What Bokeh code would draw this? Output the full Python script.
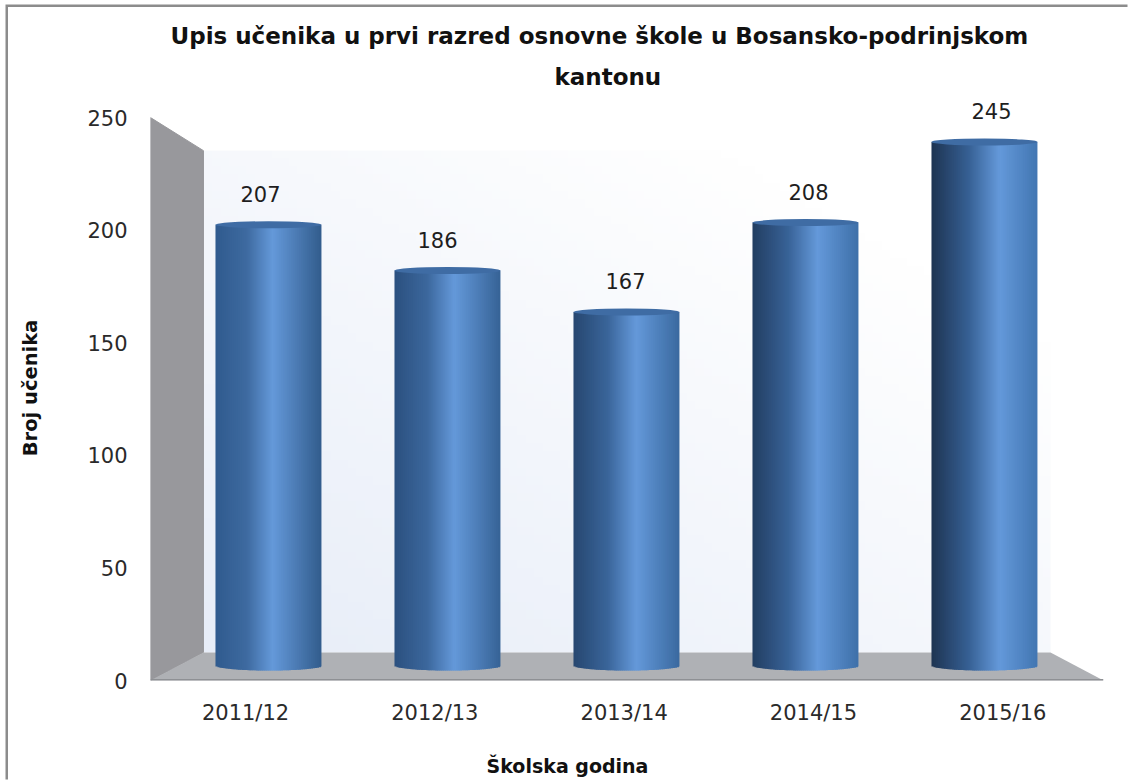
import numpy as np
from bokeh.plotting import figure
from bokeh.models import Range1d, FixedTicker, Title, LinearAxis
from bokeh.core.properties import value
from bokeh.embed import file_html
from bokeh.resources import INLINE

title_lines = ["Upis učenika u prvi razred osnovne škole u Bosansko-podrinjskom", "kantonu"]
x_title = "Školska godina"
y_title = "Broj učenika"
years = ["2011/12", "2012/13", "2013/14", "2014/15", "2015/16"]
students = [207, 186, 167, 208, 245]
y_ticks = [0, 50, 100, 150, 200, 250]
label_dx = [-8, -10, -1, 3, 7]

FONT = "DejaVu Sans"
LABEL_FONT = "DejaVu Sans"

def lerp(a, b, t):
    return a + (b - a) * t

def hexc(rgb):
    return "#%02x%02x%02x" % tuple(int(round(c)) for c in rgb)

x_idx = list(range(len(years)))

p = figure(width=1122, height=775, output_backend="svg", toolbar_location=None,
           x_range=Range1d(-0.659, 4.665), y_range=Range1d(0, 259.8),
           min_border_left=142, min_border_right=27, min_border_top=88, min_border_bottom=102,
           background_fill_color="white", border_fill_color="white",
           outline_line_color=None, margin=(7, 0, 0, 8))
p.styles = {"box-shadow": "-2.5px -2.5px 0 #8c8c8c"}
p.extra_y_ranges = {"bars": Range1d(-3.67, 264.7)}
p.extra_x_ranges = {"labels": Range1d(-0.502, 4.532), "xtitle": Range1d(150, 1103)}
p.grid.visible = False

# walls and floor of the 3D box
wl, wr, fl, fr = -0.659, 4.665, -0.363, 4.369
bw0, bw1 = 12.43, 235.3
ny, nx = 60, 100
img = np.zeros((ny, nx), dtype=np.uint32)
view = img.view(dtype=np.uint8).reshape((ny, nx, 4))
for j in range(ny):          # j=0 is the bottom row
    for i in range(nx):
        t = min(1.0, 0.62 * (i / (nx - 1)) + 0.62 * (j / (ny - 1)))
        view[j, i] = [int(lerp(231, 255, t)), int(lerp(237, 255, t)), int(lerp(248, 255, t)), 255]
p.image_rgba(image=[img], x=fl, y=bw0, dw=fr - fl, dh=bw1 - bw0)
p.patch([wl, fl, fl, wl], [250, bw1, bw0, 0], fill_color="#98989c", line_color="#98989c", line_width=1)
p.patch([wl, fl, fr, wr], [0, bw0, bw0, 0], fill_color="#afb1b5", line_color=None)
p.line([wl, wr], [0.2, 0.2], line_color="#8e9094", line_width=2)

# cylinders, drawn as vertical strips through the "bars" scale
bar_w = 0.592
n = 53
px_per = 2.18
e_bottom = 5.0 / px_per
e_top = 3.5 / px_per
base = 3.2
L, R, T, B, C = [], [], [], [], []
for i, (xc, v) in enumerate(zip(x_idx, students)):
    f = i / 4
    left = (lerp(48, 30, f), lerp(90, 52, f), lerp(142, 82, f))
    right = (lerp(50, 66, f), lerp(92, 118, f), lerp(140, 178, f))
    peak = (100, 153, 218)
    mid_l = (lerp(62, 54, f), lerp(106, 96, f), lerp(160, 148, f))
    pk = lerp(0.54, 0.64, f)
    for k in range(n):
        u = (k + 0.5) / n
        s = 2 * u - 1
        arc = np.sqrt(max(0.0, 1 - s * s))
        if u < pk * 0.55:
            c = [lerp(a, b, u / (pk * 0.55)) for a, b in zip(left, mid_l)]
        elif u < pk:
            c = [lerp(a, b, (u - pk * 0.55) / (pk * 0.45)) for a, b in zip(mid_l, peak)]
        else:
            c = [lerp(a, b, (u - pk) / (1 - pk)) for a, b in zip(peak, right)]
        L.append(xc - bar_w / 2 + k * bar_w / n)
        R.append(min(xc + bar_w / 2, xc - bar_w / 2 + (k + 1) * bar_w / n + 0.008))
        T.append(v - e_top)
        B.append(base - e_bottom * arc)
        C.append(hexc(c))
p.quad(left=L, right=R, top=T, bottom=B, fill_color=C, line_color=None, y_range_name="bars")
p.ellipse(x=x_idx, y=[v - e_top for v in students], width=bar_w, height=2 * e_top,
          fill_color="#3f6ca4", line_color=None, y_range_name="bars")

# data labels
p.text(x=x_idx, y=students, text=[str(v) for v in students], x_offset=label_dx, y_offset=-27,
       text_align="center", text_baseline="middle", text_font=value(LABEL_FONT),
       text_font_size="21px", text_color="#1e1e1e", y_range_name="bars")

p.xaxis.x_range_name = "labels"
p.xaxis.ticker = FixedTicker(ticks=x_idx)
p.xaxis.major_label_overrides = dict(zip(x_idx, years))
p.xaxis.major_label_text_font = LABEL_FONT
p.xaxis.major_label_text_font_size = "21px"
p.xaxis.major_label_text_color = "#2a2a2a"
p.xaxis.major_label_standoff = 14

# x-axis title sits left of the frame's centre, as a one-tick second axis
title_axis = LinearAxis(x_range_name="xtitle", ticker=FixedTicker(ticks=[567]),
                        major_label_overrides={567: x_title},
                        major_label_text_font=FONT, major_label_text_font_style="bold",
                        major_label_text_font_size="19px", major_label_text_color="#111111",
                        major_label_standoff=21)
p.add_layout(title_axis, "below")

p.yaxis.ticker = FixedTicker(ticks=y_ticks)
p.yaxis.major_label_text_font = LABEL_FONT
p.yaxis.major_label_text_font_size = "21px"
p.yaxis.major_label_text_color = "#2a2a2a"
p.yaxis.major_label_standoff = 17
p.yaxis.axis_label = y_title
p.yaxis.axis_label_text_font = FONT
p.yaxis.axis_label_text_font_style = "bold"
p.yaxis.axis_label_text_font_size = "19.5px"
p.yaxis.axis_label_text_color = "#111111"
p.yaxis.axis_label_standoff = 42

for ax in (p.xaxis[0], title_axis, p.yaxis[0]):
    ax.axis_line_color = None
    ax.major_tick_line_color = None
    ax.minor_tick_line_color = None

# two-line chart title; the first Title added sits nearest the frame
for txt, off, stand in zip(reversed(title_lines), [404, 20], [12, 14]):
    p.add_layout(Title(text=txt, align="left", offset=off, standoff=stand,
                       text_font=FONT, text_font_style="bold", text_font_size="23px",
                       text_color="#111111"), "above")

open("out.html", "w").write(file_html(p, INLINE))
